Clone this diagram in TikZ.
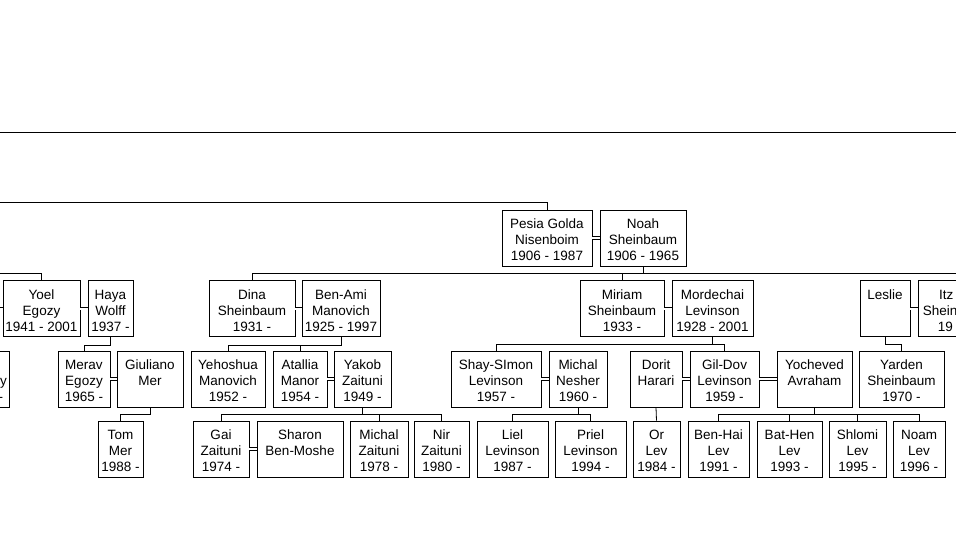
\documentclass[tikz,border=0pt]{standalone}
\usepackage{fontspec}
\setmainfont{Liberation Sans}
\newcommand{\pstr}{\rule[-1pt]{0pt}{15pt}}
\newcommand{\pcard}[3]{\pstr#1\\\pstr#2\\\pstr#3}
\newcommand{\pfont}{\fontsize{13.5}{16}\selectfont\lineskiplimit-20pt\relax}
\begin{document}
\begin{tikzpicture}[x=1pt,y=-1pt,line width=0.8pt,
    pers/.style={draw,align=center,inner sep=0pt,minimum height=56pt,font=\pfont},
    wed/.style={double,double distance=2pt,line width=0.7pt}]
    \fill[white] (0,0) rectangle (956,557);
    \useasboundingbox (0,0) rectangle (956,557);
    \clip (0,0) rectangle (956,557);
    % loose ends running out of the picture
    \coordinate (hdL) at (-2,132);
    \coordinate (hdR) at (958,132);
    \coordinate (nisL) at (-2,202);
    \coordinate (egL) at (-2,273);
    \coordinate (shR) at (958,273);
    \coordinate (yoW) at (-2,308.5);
    % first row
    \node[pers,minimum width=90pt] (pesia) at (547,238) {\pcard{Pesia Golda}{Nisenboim}{1906 - 1987}};
    \node[pers,minimum width=86pt] (noah) at (643,238) {\pcard{Noah}{Sheinbaum}{1906 - 1965}};
    % second row
    \node[pers,minimum width=77pt] (yoel) at (41.5,308.5) {\pcard{Yoel}{Egozy}{1941 - 2001}};
    \node[pers,minimum width=45pt] (haya) at (110.5,308.5) {\pcard{Haya}{Wolff}{1937 -}};
    \node[pers,minimum width=86pt] (dina) at (252,308.5) {\pcard{Dina}{Sheinbaum}{1931 -}};
    \node[pers,minimum width=78pt] (benami) at (341,308.5) {\pcard{Ben-Ami}{Manovich}{1925 - 1997}};
    \node[pers,minimum width=84pt] (miriam) at (622,308.5) {\pcard{Miriam}{Sheinbaum}{1933 -}};
    \node[pers,minimum width=81pt] (mordechai) at (712.5,308.5) {\pcard{Mordechai}{Levinson}{1928 - 2001}};
    \node[pers,minimum width=50pt] (leslie) at (885,308.5) {\pcard{Leslie}{}{}};
    \node[pers,minimum width=78pt] (itzhak) at (957,308.5) {\pcard{Itz\phantom{hak}}{Shein\phantom{baum}}{19\phantom{00 -}}};
    % third row
    \node[pers,minimum width=80pt] (leftsib) at (-31,379) {\pcard{}{\hspace*{69pt}y}{\hspace*{63.5pt}-}};
    \node[pers,minimum width=52pt] (merav) at (84,379) {\pcard{Merav}{Egozy}{1965 -}};
    \node[pers,minimum width=66pt] (giuliano) at (150,379) {\pcard{Giuliano}{Mer}{}};
    \node[pers,minimum width=74pt] (yehoshua) at (228,379) {\pcard{Yehoshua}{Manovich}{1952 -}};
    \node[pers,minimum width=54pt] (atallia) at (300,379) {\pcard{Atallia}{Manor}{1954 -}};
    \node[pers,minimum width=57pt] (yakob) at (362.5,379) {\pcard{Yakob}{Zaituni}{1949 -}};
    \node[pers,minimum width=90pt] (shay) at (496,379) {\pcard{Shay-SImon}{Levinson}{1957 -}};
    \node[pers,minimum width=58pt] (michal) at (578,379) {\pcard{Michal}{Nesher}{1960 -}};
    \node[pers,minimum width=52pt] (dorit) at (656,379) {\pcard{Dorit}{Harari}{}};
    \node[pers,minimum width=69pt] (gildov) at (724.5,379) {\pcard{Gil-Dov}{Levinson}{1959 -}};
    \node[pers,minimum width=75pt] (yocheved) at (814.5,379) {\pcard{Yocheved}{Avraham}{}};
    \node[pers,minimum width=85pt] (yarden) at (901.5,379) {\pcard{Yarden}{Sheinbaum}{1970 -}};
    % fourth row
    \node[pers,minimum width=45pt] (tom) at (120.5,449) {\pcard{Tom}{Mer}{1988 -}};
    \node[pers,minimum width=56pt] (gai) at (221,449) {\pcard{Gai}{Zaituni}{1974 -}};
    \node[pers,minimum width=86pt] (sharon) at (300,449) {\pcard{Sharon}{Ben-Moshe}{}};
    \node[pers,minimum width=58pt] (michalz) at (379,449) {\pcard{Michal}{Zaituni}{1978 -}};
    \node[pers,minimum width=55pt] (nir) at (441.5,449) {\pcard{Nir}{Zaituni}{1980 -}};
    \node[pers,minimum width=71pt] (liel) at (512.5,449) {\pcard{Liel}{Levinson}{1987 -}};
    \node[pers,minimum width=71pt] (priel) at (590.5,449) {\pcard{Priel}{Levinson}{1994 -}};
    \node[pers,minimum width=47pt] (orlev) at (656.5,449) {\pcard{Or}{Lev}{1984 -}};
    \node[pers,minimum width=61pt] (benhai) at (718.5,449) {\pcard{Ben-Hai}{Lev}{1991 -}};
    \node[pers,minimum width=65pt] (bathen) at (789.5,449) {\pcard{Bat-Hen}{Lev}{1993 -}};
    \node[pers,minimum width=57pt] (shlomi) at (857.5,449) {\pcard{Shlomi}{Lev}{1995 -}};
    \node[pers,minimum width=52pt] (noam) at (919,449) {\pcard{Noam}{Lev}{1996 -}};
    % marriages
    \draw[wed] (yoW) -- (yoel.west);
    \draw[wed] (yoel.east) -- (haya.west);
    \draw[wed] (pesia.east) -- (noah.west);
    \draw[wed] (dina.east) -- (benami.west);
    \draw[wed] (miriam.east) -- (mordechai.west);
    \draw[wed] (leslie.east) -- (itzhak.west);
    \draw[wed] (merav.east) -- (giuliano.west);
    \draw[wed] (atallia.east) -- (yakob.west);
    \draw[wed] (shay.east) -- (michal.west);
    \draw[wed] (dorit.east) -- (gildov.west);
    \draw[wed] (gildov.east) -- (yocheved.west);
    \draw[wed] (gai.east) -- (sharon.west);
    % descent lines
    \draw (hdL) -- (hdR);
    \draw (nisL) -| (pesia.north);
    \draw (egL) -| (yoel.north);
    \draw (dina.north) |- (shR);
    \draw (noah.south) -- (noah.south |- shR);
    \draw (miriam.north) -- (miriam.north |- shR);
    \draw (itzhak.north) -- (itzhak.north |- shR);
    \draw (haya.south) -- ++(0,8) -| (merav.north);
    \draw (benami.south) -- ++(0,8) coordinate (bm) -| (yehoshua.north);
    \draw (atallia.north) -- (atallia.north |- bm);
    \draw (mordechai.south) -- ++(0,7) coordinate (ml);
    \draw (shay.north) |- (ml) -| (gildov.north);
    \draw (leslie.south) -- ++(0,7) -| (yarden.north);
    \draw (giuliano.south) -- ++(0,7) -| (tom.north);
    \draw (yakob.south) -- ++(0,7) coordinate (yz);
    \draw (gai.north) |- (yz) -| (nir.north);
    \draw (michalz.north) -- (michalz.north |- yz);
    \draw (michal.south) -- ++(0,7) coordinate (mn);
    \draw (liel.north) |- (mn) -| (priel.north);
    \draw (dorit.south) -- (orlev.north);
    \draw (yocheved.south) -- ++(0,7) coordinate (ya);
    \draw (benhai.north) |- (ya) -| (noam.north);
    \foreach \k in {bathen,shlomi}
        \draw (\k.north) -- (\k.north |- ya);
\end{tikzpicture}
\end{document}
